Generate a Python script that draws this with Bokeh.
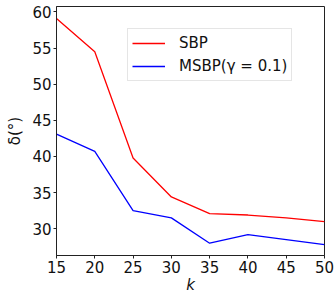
from bokeh.plotting import figure
from bokeh.models import Range1d, FixedTicker, Legend, LegendItem
from bokeh.embed import file_html
from bokeh.resources import INLINE

k = [15, 20, 25, 30, 35, 40, 45, 50]
sbp = [59.1, 54.5, 39.8, 34.4, 32.1, 31.9, 31.5, 31.0]
msbp = [43.1, 40.7, 32.5, 31.5, 28.0, 29.2, 28.5, 27.8]
x_ticks = [15, 20, 25, 30, 35, 40, 45, 50]
y_ticks = [30, 35, 40, 45, 50, 55, 60]

FONT = "DejaVu Sans"

p = figure(width=336, height=296, output_backend="svg", toolbar_location=None,
           x_range=Range1d(15, 50), y_range=Range1d(26.3, 60.75),
           min_border_left=56, min_border_right=12, min_border_top=6, min_border_bottom=39)

p.xgrid.visible = False
p.ygrid.visible = False
p.outline_line_color = "#222222"
p.outline_line_width = 1

for ax in (p.xaxis[0], p.yaxis[0]):
    ax.major_tick_in = 0
    ax.major_tick_out = 3
    ax.minor_tick_in = 0
    ax.minor_tick_out = 0
    ax.axis_line_color = "#222222"
    ax.major_tick_line_color = "#222222"
    ax.major_label_text_font = FONT
    ax.major_label_text_font_size = "15px"
    ax.major_label_text_color = "#111111"
    ax.axis_label_text_font = FONT
    ax.axis_label_text_font_size = "15px"
    ax.axis_label_text_color = "#111111"

p.xaxis[0].ticker = FixedTicker(ticks=x_ticks)
p.yaxis[0].ticker = FixedTicker(ticks=y_ticks)
p.xaxis[0].axis_label = "k"
p.xaxis[0].axis_label_text_font_style = "italic"
p.xaxis[0].axis_label_standoff = 0
p.xaxis[0].major_label_standoff = 2
p.yaxis[0].axis_label = "δ(°)"
p.yaxis[0].axis_label_text_font_style = "normal"
p.yaxis[0].axis_label_standoff = 5
p.yaxis[0].major_label_standoff = 2

r1 = p.line(k, sbp, line_color="#ff0000", line_width=1.3)
r2 = p.line(k, msbp, line_color="#0000ff", line_width=1.3)

legend = Legend(items=[LegendItem(label="SBP", renderers=[r1]),
                       LegendItem(label="MSBP(γ = 0.1)", renderers=[r2])],
                location=(71, 174))
legend.label_text_font = FONT
legend.label_text_font_size = "15px"
legend.label_text_color = "#111111"
legend.border_line_color = "#cccccc"
legend.border_line_width = 1
legend.padding = 4
legend.spacing = 3
legend.margin = 0
legend.glyph_width = 33
legend.glyph_height = 20
legend.label_height = 20
legend.label_standoff = 14
legend.background_fill_color = "white"
legend.background_fill_alpha = 0.8
p.add_layout(legend, "center")

open("out.html", "w").write(file_html(p, INLINE))
